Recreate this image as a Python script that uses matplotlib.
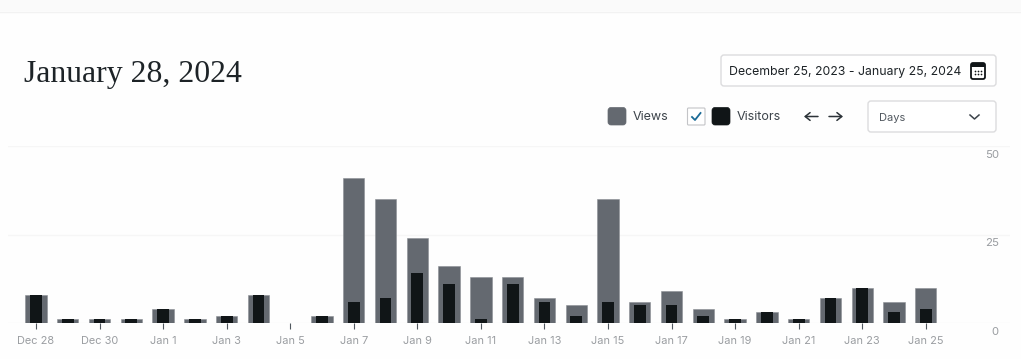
import matplotlib
matplotlib.use("Agg")
import matplotlib.pyplot as plt
from matplotlib.patches import FancyBboxPatch, Rectangle

W, H = 1021, 359

days = ["Dec 28", "Dec 29", "Dec 30", "Dec 31", "Jan 1", "Jan 2", "Jan 3", "Jan 4", "Jan 5", "Jan 6",
        "Jan 7", "Jan 8", "Jan 9", "Jan 10", "Jan 11", "Jan 12", "Jan 13", "Jan 14", "Jan 15", "Jan 16",
        "Jan 17", "Jan 18", "Jan 19", "Jan 20", "Jan 21", "Jan 22", "Jan 23", "Jan 24", "Jan 25"]
views = [8, 1, 1, 1, 4, 1, 2, 8, 0, 2, 41, 35, 24, 16, 13, 13, 7, 5, 35, 6, 9, 4, 1, 3, 1, 7, 10, 6, 10]
visitors = [8, 1, 1, 1, 4, 1, 2, 8, 0, 2, 6, 7, 14, 11, 1, 11, 6, 2, 6, 5, 5, 2, 1, 3, 1, 7, 10, 3, 4]
y_ticks = [0, 25, 50]

GREY = "#646970"
DARK = "#101517"
TICK_TXT = "#9a9da1"

plt.rcParams["font.family"] = ["Inter", "DejaVu Sans"]

fig = plt.figure(figsize=(W / 100, H / 100), dpi=100, facecolor="#fefefe")

# chart area, in pixels: x 8-1010, y 146-323
ax = fig.add_axes([8 / W, 1 - 323 / H, (1010 - 8) / W, (323 - 146) / H])
ax.patch.set_alpha(0)
xs = list(range(len(days)))
ax.bar(xs, views, width=0.67, color=GREY, edgecolor="#8c8f94", linewidth=0.4, zorder=2)
ax.bar(xs, visitors, width=0.37, color=DARK, zorder=3)
ax.set_xlim(-0.88, 30.65)
ax.set_ylim(0, 50)
ax.set_xticks(xs[::2])
ax.set_xticklabels(days[::2], fontsize=7.9, color=TICK_TXT)
ax.tick_params(axis="x", length=4, width=0.8, color="#50575e", pad=5)
ax.set_yticks(y_ticks)
ax.set_yticklabels([])
ax.tick_params(axis="y", length=0)
ax.grid(axis="y", color="#f6f6f6", linewidth=1, zorder=0)
ax.set_axisbelow(True)
for s in ax.spines.values():
    s.set_visible(False)
for v in y_ticks:
    ax.annotate(str(v), (1, v), xycoords=("axes fraction", "data"), xytext=(-8, -6.4),
                textcoords="offset points", ha="right", va="center", fontsize=8.2, color=TICK_TXT,
                annotation_clip=False)

# page furniture drawn in pixel coordinates
ui = fig.add_axes([0, 0, 1, 1], zorder=5)
ui.set_xlim(0, W)
ui.set_ylim(H, 0)
ui.axis("off")
ui.patch.set_alpha(0)

ui.add_patch(Rectangle((0, 0), W, 11, color="#fafafa", lw=0))
ui.plot([0, W], [11.5, 11.5], color="#f2f2f2", lw=1)

ui.text(23.5, 74.5, "January 28, 2024", family="Liberation Serif", fontsize=22.9, color="#1d2327", va="center")


def box(x0, y0, x1, y1, r=3, fc="white", ec="#dcdcde", lw=1):
    ui.add_patch(FancyBboxPatch((x0 + r, y0 + r), x1 - x0 - 2 * r, y1 - y0 - 2 * r,
                                boxstyle=f"round,pad={r},rounding_size={r}", fc=fc, ec=ec, lw=lw))


box(721, 55, 996, 86)
ui.text(729, 71.5, "December 25, 2023 - January 25, 2024", fontsize=8.85, color="#1d2327", va="center")

# calendar icon
box(971, 63, 985, 79, r=2, fc="white", ec="#101517", lw=1.3)
ui.add_patch(Rectangle((971, 63), 14, 3.5, color="#101517", lw=0))
ui.scatter([975, 978, 981, 975, 978, 981], [70.5, 70.5, 70.5, 74, 74, 74], s=1.5, color="#101517", lw=0)

# legend
box(608, 107.5, 626, 125, r=3, fc=GREY, ec=GREY, lw=0.5)
ui.text(633, 116.8, "Views", fontsize=9, color="#3c434a", va="center")
box(687.5, 108, 705, 125, r=1, fc="white", ec="#c3c4c7", lw=0.8)
ui.plot([692, 695, 700.5], [117, 120, 113], color="#1a6a96", lw=1.3)
box(712, 107.5, 730, 125, r=3, fc=DARK, ec=DARK, lw=0.5)
ui.text(737, 116.8, "Visitors", fontsize=9, color="#3c434a", va="center")

# prev / next arrows
for x0, x1 in [(818, 804), (829, 843)]:
    ui.annotate("", xy=(x1, 116.5), xytext=(x0, 116.5),
                arrowprops=dict(arrowstyle="->,head_length=0.35,head_width=0.28", color="#2c3338", lw=1.1,
                                shrinkA=0, shrinkB=0))

box(868, 101, 996, 132, fc="white", ec="#dcdcde")
ui.text(879, 117.8, "Days", fontsize=8, color="#50575e", va="center")
ui.plot([970, 974.5, 979], [115, 119, 115], color="#3c434a", lw=1.1)

fig.savefig("out.png", dpi=100, facecolor=fig.get_facecolor())
